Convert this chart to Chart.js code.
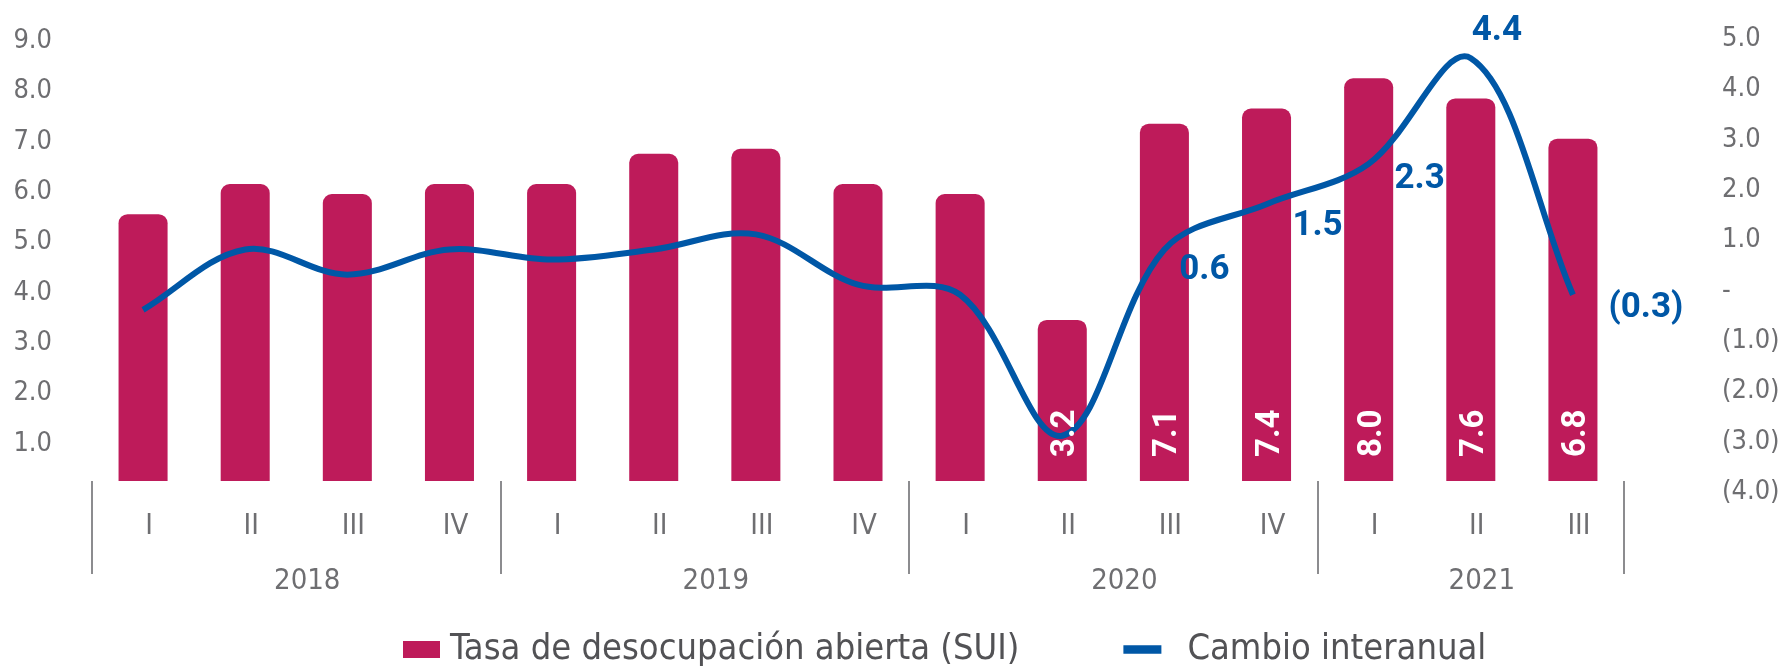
<!DOCTYPE html>
<html>
<head>
<meta charset="utf-8">
<script src="https://cdn.jsdelivr.net/npm/chart.js@4.4.0/dist/chart.umd.min.js"></script>
<style>
  html, body { margin: 0; padding: 0; background: #ffffff; }
  #wrap { width: 1783px; height: 669px; position: relative; }
</style>
</head>
<body>
<div id="wrap"><canvas id="c" width="1783" height="669"></canvas></div>
<script>
// ---- data ----
const quarters = ['I','II','III','IV','I','II','III','IV','I','II','III','IV','I','II','III'];
const years = ['2018','2019','2020','2021'];
const quartersPerYear = [4, 4, 4, 3];
const unemploymentRate = [5.3, 5.9, 5.7, 5.9, 5.9, 6.5, 6.6, 5.9, 5.7, 3.2, 7.1, 7.4, 8.0, 7.6, 6.8];
const yoyChange = [-0.6, 0.6, 0.1, 0.6, 0.4, 0.6, 0.9, -0.1, -0.3, -3.1, 0.6, 1.5, 2.3, 4.4, -0.3];
const seriesNames = ['Tasa de desocupación abierta (SUI)', 'Cambio interanual'];
const firstLabelledBar = 9;
const firstLabelledPoint = 10;

// ---- style ----
const BAR_COLOR = '#BE1B5A';
const LINE_COLOR = '#0057A6';
const TEXT_GRAY = '#6E6E71';
const LEGEND_TEXT = '#525255';
const NARROW = '"Liberation Sans Narrow","DejaVu Sans Condensed","Arial Narrow","Roboto Condensed",Roboto,sans-serif';
const BOLD = 'Roboto, "DejaVu Sans", sans-serif';

const fmt1 = v => v.toFixed(1);
const fmtSigned = v => v === 0 ? '-' : (v < 0 ? '(' + Math.abs(v).toFixed(1) + ')' : v.toFixed(1));

// label placement relative to its point (style)
const lineLabelOffsets = {10: [40, 17], 11: [51, 18], 12: [51, 12], 13: [26, -31], 14: [73, 10]};

function noPad(s) { s.paddingTop = 0; s.paddingBottom = 0; s.paddingLeft = 0; s.paddingRight = 0; }

const valueLabels = {
  id: 'valueLabels',
  afterDatasetsDraw(chart) {
    const ctx = chart.ctx;
    ctx.save();
    const barMeta = chart.getDatasetMeta(0);
    ctx.font = 'bold 33px ' + BOLD;
    ctx.fillStyle = '#ffffff';
    ctx.textAlign = 'left';
    ctx.textBaseline = 'alphabetic';
    barMeta.data.forEach((bar, i) => {
      if (i < firstLabelledBar) return;
      ctx.save();
      ctx.translate(bar.x, bar.base - 24);
      ctx.rotate(-Math.PI / 2);
      ctx.fillText(fmt1(unemploymentRate[i]), 0, 12);
      ctx.restore();
    });
    const lineMeta = chart.getDatasetMeta(1);
    ctx.font = 'bold 35px ' + BOLD;
    ctx.fillStyle = LINE_COLOR;
    ctx.textAlign = 'center';
    lineMeta.data.forEach((pt, i) => {
      if (i < firstLabelledPoint) return;
      const off = lineLabelOffsets[i] || [0, -24];
      ctx.fillText(fmtSigned(yoyChange[i]), pt.x + off[0], pt.y + off[1] + 12.5);
    });
    ctx.restore();
  }
};

const yearAxis = {
  id: 'yearAxis',
  afterDraw(chart) {
    const xs = chart.scales.x;
    const ctx = chart.ctx;
    const top = chart.chartArea.bottom;
    const half = (xs.getPixelForTick(1) - xs.getPixelForTick(0)) / 2;
    ctx.save();
    ctx.strokeStyle = '#8C8C8F';
    ctx.lineWidth = 2;
    ctx.font = '29px ' + NARROW;
    ctx.fillStyle = TEXT_GRAY;
    ctx.textAlign = 'center';
    ctx.textBaseline = 'middle';
    const edges = [];
    let start = 0;
    years.forEach((yr, k) => {
      const n = quartersPerYear[k];
      const left = xs.getPixelForTick(start) - half;
      const right = xs.getPixelForTick(start + n - 1) + half;
      edges.push(left);
      if (k === years.length - 1) edges.push(right);
      ctx.fillText(yr, (left + right) / 2 + 11, top + 100);
      start += n;
    });
    edges.forEach(e => {
      ctx.beginPath();
      ctx.moveTo(Math.round(e), top);
      ctx.lineTo(Math.round(e), top + 93);
      ctx.stroke();
    });
    ctx.restore();
  }
};

const customLegend = {
  id: 'customLegend',
  afterDraw(chart) {
    const ctx = chart.ctx;
    const cy = 649.5;
    ctx.save();
    ctx.font = '36px ' + NARROW;
    ctx.textBaseline = 'middle';
    ctx.textAlign = 'left';
    let x = 403;
    chart.data.datasets.forEach((ds, i) => {
      const sw = i === 0 ? [37, 17] : [38, 8.5];
      ctx.fillStyle = ds.type === 'line' ? ds.borderColor : ds.backgroundColor;
      ctx.fillRect(x, cy - sw[1] / 2, sw[0], sw[1]);
      x += sw[0] + (i === 0 ? 10 : 26);
      ctx.fillStyle = LEGEND_TEXT;
      ctx.fillText(ds.label, x, cy);
      x += ctx.measureText(ds.label).width + 104;
    });
    ctx.restore();
  }
};

new Chart(document.getElementById('c'), {
  data: {
    labels: quarters,
    datasets: [
      {
        type: 'bar', label: seriesNames[0], data: unemploymentRate, yAxisID: 'yL',
        backgroundColor: BAR_COLOR, borderRadius: {topLeft: 9, topRight: 9, bottomLeft: 0, bottomRight: 0},
        borderSkipped: 'start', barPercentage: 0.48, categoryPercentage: 1, order: 2
      },
      {
        type: 'line', label: seriesNames[1], data: yoyChange, yAxisID: 'yR',
        borderColor: LINE_COLOR, backgroundColor: LINE_COLOR, borderWidth: 6, pointRadius: 0,
        tension: 0.35, fill: false, order: 1
      }
    ]
  },
  options: {
    responsive: false,
    animation: false,
    devicePixelRatio: 1,
    layout: {padding: {top: 28, left: 0, right: 0, bottom: 0}},
    plugins: {legend: {display: false}, tooltip: {enabled: false}},
    scales: {
      x: {
        grid: {display: false, drawTicks: false}, border: {display: false},
        ticks: {font: {family: NARROW, size: 29}, color: TEXT_GRAY, padding: 28, labelOffset: 6, maxRotation: 0, autoSkip: false},
        afterFit(s) { s.height = 188; noPad(s); }
      },
      yL: {
        position: 'left', min: 0, max: 9,
        grid: {display: false, drawTicks: false}, border: {display: false},
        ticks: {stepSize: 1, callback: v => v === 0 ? '' : fmt1(v), font: {family: NARROW, size: 27}, color: TEXT_GRAY, padding: 40, labelOffset: 13},
        afterFit(s) { s.width = 92; noPad(s); }
      },
      yR: {
        position: 'right', min: -4, max: 5,
        grid: {display: false, drawTicks: false}, border: {display: false},
        ticks: {stepSize: 1, callback: v => fmtSigned(v), font: {family: NARROW, size: 27}, color: TEXT_GRAY, padding: 98, labelOffset: 11},
        afterFit(s) { s.width = 159; noPad(s); }
      }
    }
  },
  plugins: [valueLabels, yearAxis, customLegend]
});
</script>
</body>
</html>
